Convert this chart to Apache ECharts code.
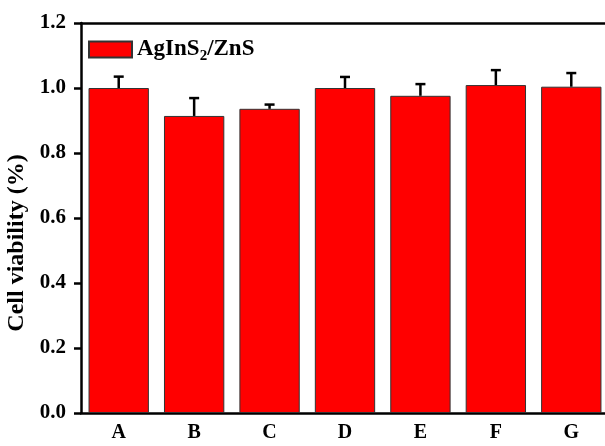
<!DOCTYPE html>
<html>
<head>
<meta charset="utf-8">
<script src="https://cdn.jsdelivr.net/npm/echarts@6/dist/echarts.min.js"></script>
<style>
    html, body { margin: 0; padding: 0; background: #fff; }
    #chart { width: 605px; height: 446px; }
</style>
</head>
<body>
<div id="chart"></div>
<script>
    var categories = ['A', 'B', 'C', 'D', 'E', 'F', 'G'];
    var viability = [1.0, 0.914, 0.936, 1.0, 0.976, 1.009, 1.004];
    var errors = [0.035, 0.055, 0.013, 0.034, 0.036, 0.046, 0.042];
    var yTicks = [0, 0.2, 0.4, 0.6, 0.8, 1.0, 1.2];

    var font = 'Liberation Serif';

    //误差棒数据
    var errData = viability.map(function(v, i) {
        return [i, v, v + errors[i]];
    });

    var myChart = echarts.init(document.getElementById('chart'));

    var option = {
        animation: false,
        grid: {
            left: 81,
            right: -4,
            top: 23,
            bottom: 33,
            outerBoundsMode: 'none'
        },
        legend: {
            left: 83,
            top: 33,
            itemWidth: 43,
            itemHeight: 16,
            itemGap: 6,
            icon: 'rect',
            data: ['AgInS2/ZnS'],
            formatter: function() {
                return '{a|AgInS}{s|2}{a|/ZnS}';
            },
            textStyle: {
                rich: {
                    a: { fontFamily: font, fontWeight: 'bold', fontSize: 23, color: '#000' },
                    s: { fontFamily: font, fontWeight: 'bold', fontSize: 15, color: '#000', verticalAlign: 'bottom', padding: [14, 0, 0, 0] }
                }
            }
        },
        xAxis: [{
            type: 'category',
            data: categories,
            axisLine: { lineStyle: { color: '#000', width: 2.5 } },
            axisTick: { alignWithLabel: true, length: 6, lineStyle: { width: 2.5, color: '#000' } },
            axisLabel: { color: '#000', fontFamily: font, fontWeight: 'bold', fontSize: 20, margin: 10 }
        }, {
            type: 'category',
            position: 'top',
            data: categories,
            axisLine: { lineStyle: { color: '#000', width: 2.5 } },
            axisTick: { show: false },
            axisLabel: { show: false }
        }],
        yAxis: [{
            type: 'value',
            min: yTicks[0],
            max: yTicks[yTicks.length - 1],
            interval: 0.2,
            name: 'Cell viability (%)',
            nameLocation: 'middle',
            nameGap: 47,
            nameTextStyle: {
                color: '#000', fontFamily: font, fontWeight: 'bold', fontSize: 24,
                padding: [0, 50, 0, 0]
            },
            splitLine: { show: false },
            axisLine: { show: true, lineStyle: { color: '#000', width: 2.5 } },
            axisTick: { show: true, length: 7, lineStyle: { width: 2.5, color: '#000' } },
            axisLabel: {
                color: '#000', fontFamily: font, fontWeight: 'bold', fontSize: 21, margin: 15,
                formatter: function(v) { return v.toFixed(1); }
            }
        }],
        series: [{
            name: 'AgInS2/ZnS',
            type: 'bar',
            barWidth: '80%',
            itemStyle: { color: '#ff0000', borderColor: '#333', borderWidth: 1 },
            data: viability
        }, {
            type: 'custom',
            name: 'err',
            z: 3,
            renderItem: function(params, api) {
                var top = api.coord([api.value(0), api.value(1)]);
                var high = api.coord([api.value(0), api.value(2)]);
                var style = { stroke: '#000', lineWidth: 2.5 };
                return {
                    type: 'group',
                    children: [{
                        type: 'line',
                        shape: { x1: top[0], y1: top[1], x2: high[0], y2: high[1] },
                        style: style
                    }, {
                        type: 'line',
                        shape: { x1: high[0] - 5, y1: high[1], x2: high[0] + 5, y2: high[1] },
                        style: style
                    }]
                };
            },
            encode: { x: 0, y: [1, 2] },
            data: errData
        }]
    };

    myChart.setOption(option);
</script>
</body>
</html>
